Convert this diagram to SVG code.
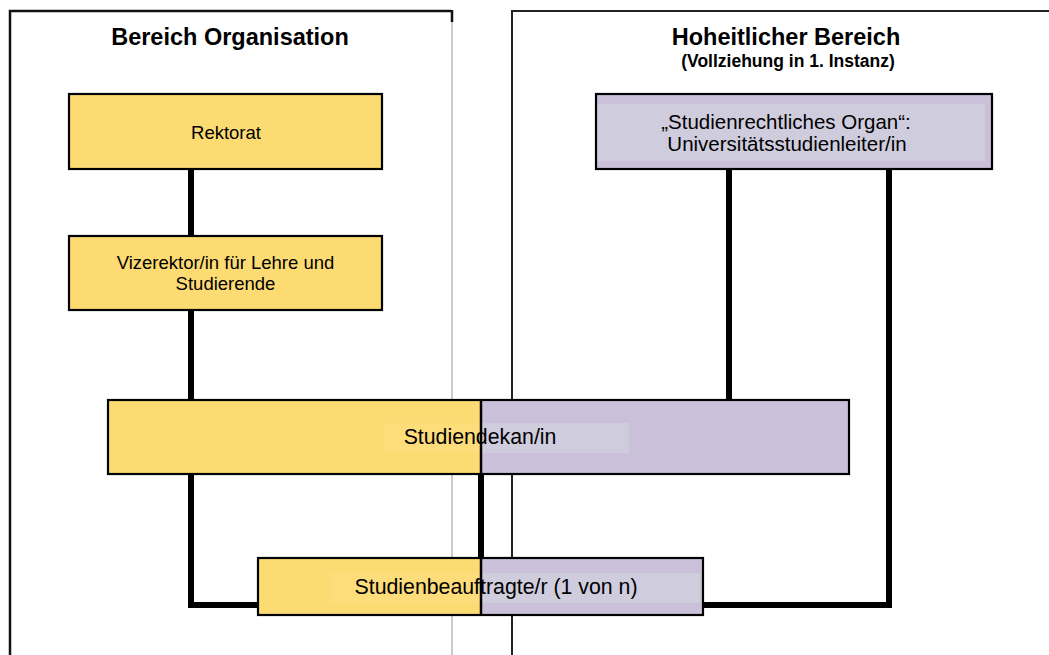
<svg xmlns="http://www.w3.org/2000/svg" width="1049" height="655" viewBox="0 0 1049 655">
<style>
text{font-family:"Liberation Sans",Arial,sans-serif;fill:#000;text-anchor:middle}
.t{font-weight:bold;font-size:23.5px}
.y{fill:#FDDB73}
.p{fill:#CBC0DA}
.ly{fill:#FDDC7A}
.lp{fill:#CFCCDD}
.b{fill:none;stroke:#000;stroke-width:2.2}
.c{fill:none;stroke:#000;stroke-width:6}
.n{font-size:18.5px}
</style>
<rect width="1049" height="655" fill="#fff"/>
<g id="panel-org">
<path d="M10 655V11H451" fill="none" stroke="#111" stroke-width="2.5"/>
<path d="M452 10V22" stroke="#111" stroke-width="2.5"/>
<path d="M452 22V655" stroke="#b8b8b8" stroke-width="1.5"/>
<text class="t" x="230" y="45">Bereich Organisation</text>
</g>
<g id="panel-hoheit">
<path d="M1049 11H512V655" fill="none" stroke="#222" stroke-width="2"/>
<text class="t" x="786" y="45">Hoheitlicher Bereich</text>
<text x="788" y="67" style="font-weight:bold;font-size:17.5px">(Vollziehung in 1. Instanz)</text>
</g>
<g id="connectors">
<path class="c" d="M191 169V236M191 310V400M191 474V605H258M481 474V558M729 169V400M889 169V605H703"/>
</g>
<g id="rektorat">
<rect class="y" x="69" y="94" width="313" height="75"/>
<rect class="b" x="69" y="94" width="313" height="75"/>
<text class="n" x="226" y="139">Rektorat</text>
</g>
<g id="vizerektor">
<rect class="y" x="69" y="236" width="313" height="74"/>
<rect class="b" x="69" y="236" width="313" height="74"/>
<text class="n" x="225.5" y="269">Vizerektor/in für Lehre und</text>
<text class="n" x="225.5" y="290">Studierende</text>
</g>
<g id="studienrecht">
<rect class="p" x="596" y="94" width="396" height="75"/>
<rect class="lp" x="597" y="104" width="388" height="57"/>
<rect class="b" x="596" y="94" width="396" height="75"/>
<text x="786" y="129" style="font-size:20.5px">„Studienrechtliches Organ“:</text>
<text x="787" y="151" style="font-size:20.5px">Universitätsstudienleiter/in</text>
</g>
<g id="studiendekan">
<rect class="y" x="108" y="400" width="373" height="74"/>
<rect class="p" x="481" y="400" width="368" height="74"/>
<rect class="ly" x="383" y="423" width="98" height="30"/>
<rect class="lp" x="481" y="423" width="148" height="30"/>
<path d="M481 400V474" stroke="#000" stroke-width="2.5"/>
<rect class="b" x="108" y="400" width="741" height="74"/>
<text x="480" y="444" style="font-size:21.3px">Studiendekan/in</text>
</g>
<g id="studienbeauftragte">
<rect class="y" x="258" y="558" width="223" height="57"/>
<rect class="p" x="481" y="558" width="222" height="57"/>
<rect class="ly" x="330" y="573" width="151" height="30"/>
<rect class="lp" x="481" y="573" width="219" height="30"/>
<path d="M481 558V615" stroke="#000" stroke-width="2.5"/>
<rect class="b" x="258" y="558" width="445" height="57"/>
<text x="496" y="594" style="font-size:21.3px">Studienbeauftragte/r (1 von n)</text>
</g>
</svg>
